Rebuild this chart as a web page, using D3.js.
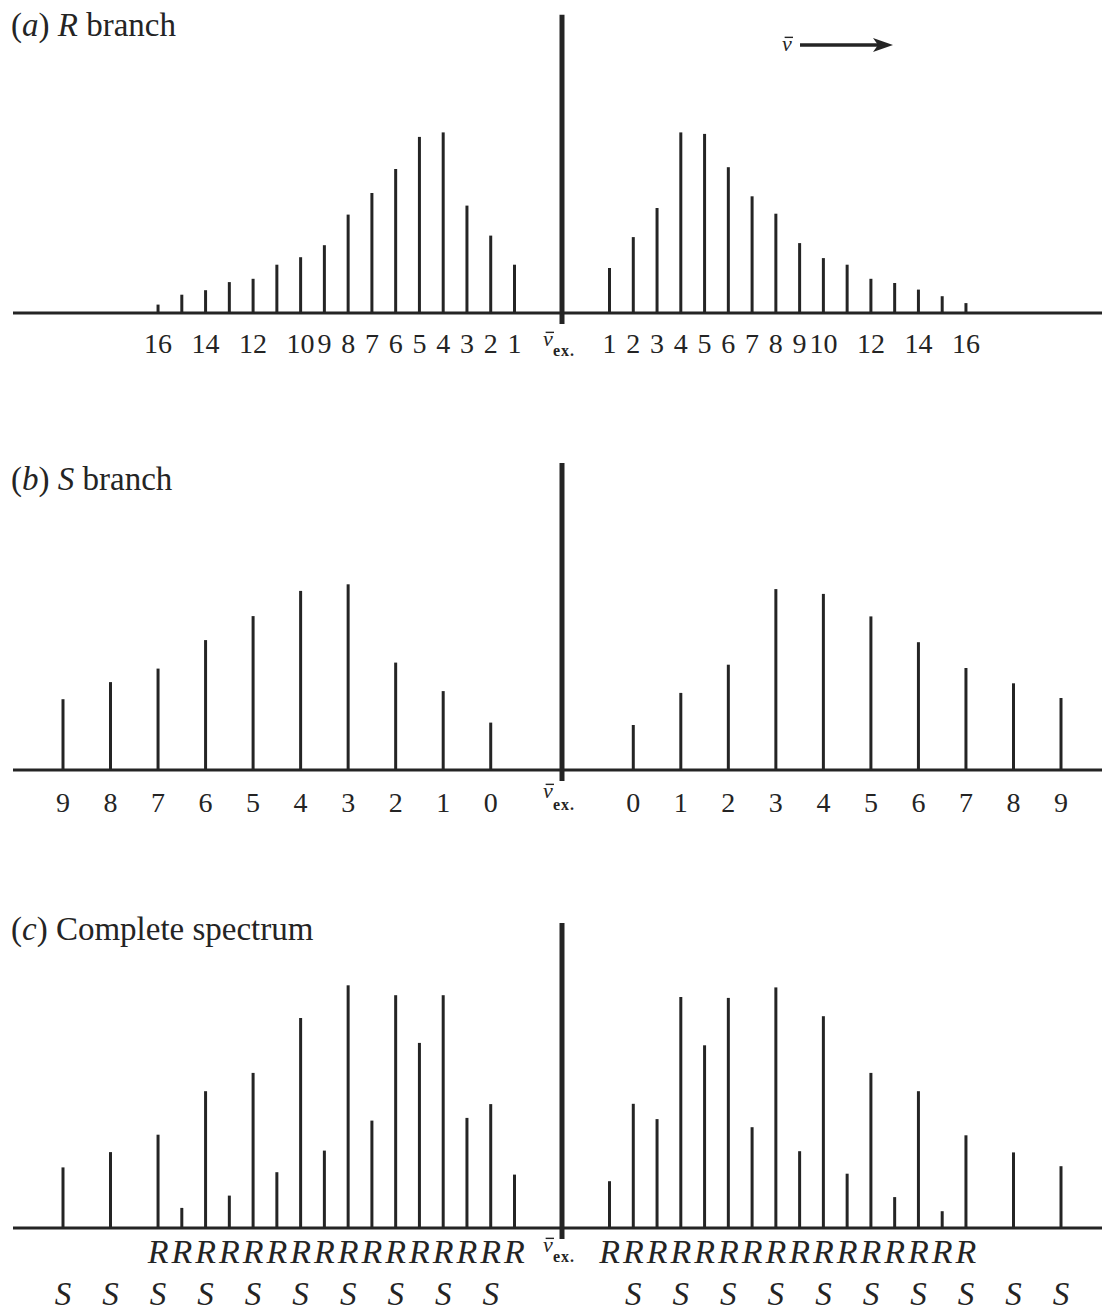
<!DOCTYPE html>
<html>
<head>
<meta charset="utf-8">
<script src="https://cdn.jsdelivr.net/npm/d3@7"></script>
<style>
  html, body { margin: 0; padding: 0; background: #fff; }
  svg { display: block; }
  text { font-family: "Liberation Serif", "Times New Roman", serif; fill: #242424; }
</style>
</head>
<body>
<svg id="chart" width="1102" height="1312"></svg>
<script>
// Line positions are given as shifts from the band origin in units of B.
// R branch: J = 1..16
const rJ = [1, 2, 3, 4, 5, 6, 7, 8, 9, 10, 11, 12, 13, 14, 15, 16];
const rShift = [4, 6, 8, 10, 12, 14, 16, 18, 20, 22, 24, 26, 28, 30, 32, 34];
const rLeft = [16.1, 25.8, 35.8, 60.2, 58.7, 48.0, 40.0, 32.8, 22.6, 18.6, 16.1, 11.4, 10.3, 7.6, 6.1, 2.8];
const rRight = [15.0, 25.3, 35.0, 60.2, 59.7, 48.6, 38.9, 33.1, 23.3, 18.3, 16.1, 11.4, 10.0, 7.8, 5.6, 3.3];
const rTickLabels = ["1", "2", "3", "4", "5", "6", "7", "8", "9", "10", "", "12", "", "14", "", "16"];

// S branch: J = 0..9
const sJ = [0, 1, 2, 3, 4, 5, 6, 7, 8, 9];
const sShift = [6, 10, 14, 18, 22, 26, 30, 34, 38, 42];
const sLeft = [15.8, 26.3, 35.8, 61.9, 59.7, 51.3, 43.3, 33.8, 29.3, 23.6];
const sRight = [15.0, 25.7, 35.1, 60.3, 58.7, 51.2, 42.6, 34.0, 28.9, 24.0];
const sTickLabels = ["0", "1", "2", "3", "4", "5", "6", "7", "8", "9"];

// Complete spectrum: R and S lines together (coinciding lines merge)
const cShift = [4, 6, 8, 10, 12, 14, 16, 18, 20, 22, 24, 26, 28, 30, 32, 34, 38, 42];
const cLeft = [17.8, 41.3, 36.7, 77.6, 61.7, 77.6, 35.8, 80.9, 25.8, 70.0, 18.6, 51.7, 10.8, 45.6, 6.7, 31.1, 25.3, 20.2];
const cRight = [15.6, 41.4, 36.3, 77.0, 60.9, 76.7, 33.6, 80.2, 25.6, 70.6, 18.1, 51.7, 10.3, 45.6, 5.6, 30.9, 25.2, 20.6];

// Height of the line drawn at the band origin in each panel
const originHeight = [99.4, 102.3, 101.7];

const svg = d3.select("#chart");
const ink = "#242424";

const x = d3.scaleLinear().domain([-42, 42]).range([63, 1061]);

function title(y, parts) {
  const t = svg.append("text").attr("x", 11).attr("y", y).style("font-size", "33px");
  parts.forEach(([s, it]) => t.append("tspan").text(s).style("font-style", it ? "italic" : "normal"));
}

// wavenumber symbol: nu with a bar over it
function nuBar(g, xLeft, yBase, size) {
  g.append("text").attr("x", xLeft).attr("y", yBase)
    .style("font-size", size + "px").style("font-style", "italic").text("\u03BD");
  g.append("line")
    .attr("x1", xLeft + size * 0.12).attr("x2", xLeft + size * 0.5)
    .attr("y1", yBase - size * 0.62).attr("y2", yBase - size * 0.62)
    .attr("stroke", ink).attr("stroke-width", 1.4);
}

function panel(base, cfg) {
  const y = d3.scaleLinear().domain([0, 100]).range([base, base - 300]);
  const g = svg.append("g");

  // baseline
  g.append("line")
    .attr("x1", 13).attr("x2", 1102)
    .attr("y1", base).attr("y2", base)
    .attr("stroke", ink).attr("stroke-width", 3);

  const lines = [];
  cfg.shift.forEach((s, i) => {
    lines.push({ x: -s, v: cfg.left[i] });
    lines.push({ x: s, v: cfg.right[i] });
  });

  g.selectAll("line.ln").data(lines).join("line")
    .attr("class", "ln")
    .attr("x1", d => x(d.x)).attr("x2", d => x(d.x))
    .attr("y1", base).attr("y2", d => y(d.v))
    .attr("stroke", ink).attr("stroke-width", 3);

  // origin line
  g.append("line")
    .attr("x1", x(0)).attr("x2", x(0))
    .attr("y1", base + 11).attr("y2", y(cfg.origin))
    .attr("stroke", ink).attr("stroke-width", 5);

  // origin label
  nuBar(g, x(0) - 19, base + cfg.vexDy, 22);
  g.append("text").attr("x", x(0) - 9).attr("y", base + cfg.vexDy + cfg.exDy)
    .style("font-size", "16px").style("font-weight", "bold").style("letter-spacing", "1px")
    .text("ex.");
  return { g, y };
}

// (a) R branch
title(36, [["(", 0], ["a", 1], [") ", 0], ["R", 1], [" branch", 0]]);
const pa = panel(313, { shift: rShift, left: rLeft, right: rRight, origin: originHeight[0], vexDy: 33, exDy: 10 });
const ticksA = [];
rShift.forEach((s, i) => { if (rTickLabels[i]) { ticksA.push({ x: -s, t: rTickLabels[i] }); ticksA.push({ x: s, t: rTickLabels[i] }); } });
pa.g.selectAll("text.tk").data(ticksA).join("text")
  .attr("class", "tk")
  .attr("x", d => x(d.x)).attr("y", 353)
  .attr("text-anchor", "middle").style("font-size", "28px")
  .text(d => d.t);

// direction of increasing wavenumber
const ar = svg.append("g");
nuBar(ar, 782, 51, 22);
ar.append("line").attr("x1", 800).attr("x2", 878).attr("y1", 45).attr("y2", 45)
  .attr("stroke", ink).attr("stroke-width", 3.5);
ar.append("path").attr("d", "M873,38 L893,45 L873,52 L878,45 Z").attr("fill", ink);

// (b) S branch
title(490, [["(", 0], ["b", 1], [") ", 0], ["S", 1], [" branch", 0]]);
const pb = panel(770, { shift: sShift, left: sLeft, right: sRight, origin: originHeight[1], vexDy: 28, exDy: 12 });
const ticksB = [];
sShift.forEach((s, i) => { ticksB.push({ x: -s, t: sTickLabels[i] }); ticksB.push({ x: s, t: sTickLabels[i] }); });
pb.g.selectAll("text.tk").data(ticksB).join("text")
  .attr("class", "tk")
  .attr("x", d => x(d.x)).attr("y", 812)
  .attr("text-anchor", "middle").style("font-size", "28px")
  .text(d => d.t);

// (c) Complete spectrum
title(940, [["(", 0], ["c", 1], [") Complete spectrum", 0]]);
const pc = panel(1228, { shift: cShift, left: cLeft, right: cRight, origin: originHeight[2], vexDy: 24, exDy: 10 });
const rMarks = [];
rShift.forEach(s => { rMarks.push(-s); rMarks.push(s); });
pc.g.selectAll("text.rl").data(rMarks).join("text")
  .attr("class", "rl")
  .attr("x", d => x(d)).attr("y", 1263)
  .attr("text-anchor", "middle").style("font-size", "34px").style("font-style", "italic")
  .text("R");
const sMarks = [];
sShift.forEach(s => { sMarks.push(-s); sMarks.push(s); });
pc.g.selectAll("text.sl").data(sMarks).join("text")
  .attr("class", "sl")
  .attr("x", d => x(d)).attr("y", 1305)
  .attr("text-anchor", "middle").style("font-size", "33px").style("font-style", "italic")
  .text("S");
</script>
</body>
</html>
